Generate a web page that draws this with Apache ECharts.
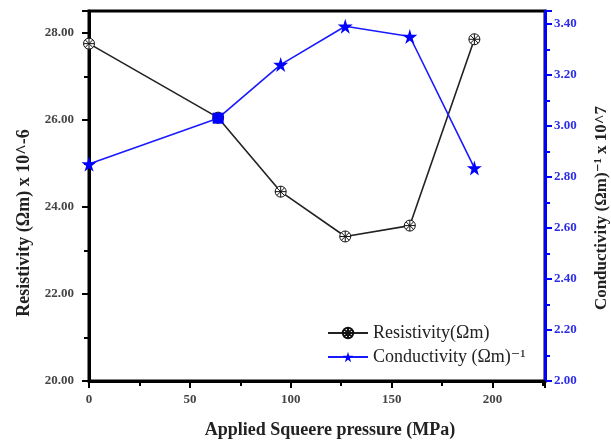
<!DOCTYPE html>
<html>
<head>
<meta charset="utf-8">
<script src="https://cdn.jsdelivr.net/npm/echarts@6/dist/echarts.min.js"></script>
<style>
  html, body { margin: 0; padding: 0; background: #fff; }
  #main { width: 611px; height: 442px; }
</style>
</head>
<body>
<div id="main"></div>
<script>
// 数据
var pressure = [0, 64, 95, 127, 159, 191]
var resistivity = [27.75, 26.05, 24.35, 23.32, 23.57, 27.85]
var conductivity = [2.85, 3.03, 3.24, 3.39, 3.35, 2.835]

var crossCircle = 'path://M10,0 A10,10 0 1,1 10,20 A10,10 0 1,1 10,0 Z M3,3 L17,17 M17,3 L3,17 M10,0 L10,20 M0,10 L20,10'
var star = 'path://M50,0 L61,35 L98,35 L68,57 L79,91 L50,70 L21,91 L32,57 L2,35 L39,35 Z'
var font = '"Liberation Serif", "DejaVu Serif", serif'

var chart = echarts.init(document.getElementById('main'))

var option = {
  backgroundColor: '#fff',
  animation: false,
  textStyle: { fontFamily: font },
  grid: {
    left: 89, right: 66, top: 11, bottom: 61,
    outerBoundsMode: 'none',
    containLabel: false,
    show: true,
    borderColor: '#000',
    borderWidth: 3
  },
  legend: {
    orient: 'vertical',
    left: 322,
    top: 319,
    itemWidth: 40,
    itemHeight: 13,
    itemGap: 6,
    textStyle: { fontFamily: font, fontSize: 18, color: '#222' },
    data: ['Resistivity(Ωm)', 'Conductivity (Ωm)⁻¹']
  },
  xAxis: {
    type: 'value',
    min: 0,
    max: 226,
    interval: 50,
    name: 'Applied Squeere pressure (MPa)',
    nameLocation: 'middle',
    nameGap: 40,
    nameTextStyle: { fontFamily: font, fontSize: 18, fontWeight: 'bold', color: '#222', padding: [0, 0, 0, 26] },
    axisLine: { lineStyle: { color: '#000', width: 3 } },
    axisTick: { inside: false, length: 7, lineStyle: { color: '#000', width: 2 } },
    minorTick: { show: true, splitNumber: 2, length: 5, lineStyle: { color: '#000', width: 2 } },
    axisLabel: { showMaxLabel: false, margin: 12, fontFamily: font, fontSize: 13, fontWeight: 'bold', color: '#444' },
    splitLine: { show: false }
  },
  yAxis: [{
    type: 'value',
    position: 'left',
    min: 20,
    max: 28.5,
    interval: 2,
    name: 'Resistivity (Ωm) x 10^-6',
    nameLocation: 'middle',
    nameRotate: 90,
    nameGap: 56,
    nameTextStyle: { fontFamily: font, fontSize: 18, fontWeight: 'bold', color: '#222', padding: [0, 54, 0, 0] },
    axisLine: { show: true, lineStyle: { color: '#000', width: 3 } },
    axisTick: { show: true, inside: false, length: 7, lineStyle: { color: '#000', width: 2 } },
    minorTick: { show: true, splitNumber: 2, length: 5, lineStyle: { color: '#000', width: 2 } },
    axisLabel: {
      showMaxLabel: false,
      margin: 15,
      fontFamily: font, fontSize: 13, fontWeight: 'bold', color: '#444',
      formatter: function (v) { return v.toFixed(2) }
    },
    splitLine: { show: false }
  }, {
    type: 'value',
    position: 'right',
    min: 2,
    max: 3.45,
    interval: 0.2,
    name: 'Conductivity (Ωm)⁻¹ x 10^7',
    nameLocation: 'middle',
    nameRotate: 90,
    nameGap: 48,
    nameTextStyle: { fontFamily: font, fontSize: 17, fontWeight: 'bold', color: '#222', padding: [0, 24, 0, 0] },
    axisLine: { show: true, lineStyle: { color: '#0000ff', width: 3 } },
    axisTick: { show: true, inside: false, length: 7, lineStyle: { color: '#0000ff', width: 2 } },
    minorTick: { show: true, splitNumber: 2, length: 5, lineStyle: { color: '#0000ff', width: 2 } },
    axisLabel: {
      showMaxLabel: false,
      margin: 9,
      fontFamily: font, fontSize: 13, fontWeight: 'bold', color: '#2d2de6',
      formatter: function (v) { return v.toFixed(2) }
    },
    splitLine: { show: false }
  }],
  series: [{
    name: 'Resistivity(Ωm)',
    type: 'line',
    yAxisIndex: 0,
    symbol: crossCircle,
    symbolSize: 11,
    lineStyle: { color: '#222', width: 1.6 },
    itemStyle: { color: '#fff', borderColor: '#111', borderWidth: 1 },
    data: pressure.map(function (p, i) { return [p, resistivity[i]] })
  }, {
    name: 'Conductivity (Ωm)⁻¹',
    type: 'line',
    yAxisIndex: 1,
    symbol: star,
    symbolSize: 15,
    lineStyle: { color: '#1a1aff', width: 1.6 },
    itemStyle: { color: '#0000ff' },
    data: pressure.map(function (p, i) {
      if (i === 1) return { value: [p, conductivity[i]], symbol: 'rect', symbolSize: 11 }
      return [p, conductivity[i]]
    })
  }]
}

chart.setOption(option)
</script>
</body>
</html>
